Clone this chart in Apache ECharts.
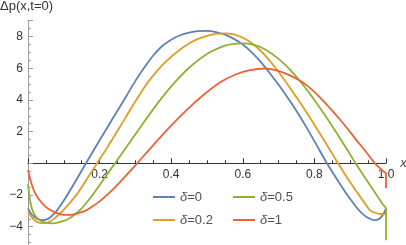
<!DOCTYPE html>
<html>
<head>
<meta charset="utf-8">
<script src="https://cdn.jsdelivr.net/npm/echarts@6/dist/echarts.min.js"></script>
<style>
html,body{margin:0;padding:0;background:#fff;}
#chart{width:406px;height:245px;}
</style>
</head>
<body>
<div id="chart"></div>
<script>
// ---- data ----
var seriesNames = ['δ=0', 'δ=0.2', 'δ=0.5', 'δ=1'];

var xDelta0 = [0, 0.005, 0.01, 0.02, 0.03, 0.04, 0.05, 0.06, 0.08, 0.10, 0.12, 0.14, 0.162, 0.20, 0.24, 0.271, 0.30, 0.33, 0.35, 0.375, 0.40, 0.425, 0.45, 0.475, 0.50, 0.525, 0.55, 0.575, 0.60, 0.625, 0.65, 0.675, 0.70, 0.725, 0.75, 0.777, 0.80, 0.835, 0.86, 0.88, 0.90, 0.92, 0.94, 0.955, 0.968, 0.98, 0.99, 0.995, 1.0];
var yDelta0 = [-2.84, -3.05, -3.22, -3.42, -3.54, -3.58, -3.55, -3.45, -3.0, -2.35, -1.62, -0.85, 0, 1.45, 2.95, 4.1, 5.2, 6.2, 6.8, 7.4, 7.8, 8.08, 8.25, 8.34, 8.35, 8.28, 8.12, 7.85, 7.5, 7.0, 6.4, 5.7, 4.95, 4.15, 3.3, 2.3, 1.4, 0, -0.9, -1.6, -2.25, -2.85, -3.3, -3.5, -3.58, -3.52, -3.3, -3.1, -2.84];

var xDelta02 = [0, 0.005, 0.01, 0.02, 0.03, 0.045, 0.06, 0.075, 0.09, 0.10, 0.12, 0.14, 0.16, 0.18, 0.193, 0.22, 0.257, 0.285, 0.304, 0.33, 0.35, 0.378, 0.40, 0.425, 0.45, 0.475, 0.50, 0.525, 0.55, 0.575, 0.60, 0.625, 0.65, 0.675, 0.70, 0.73, 0.76, 0.80, 0.84, 0.866, 0.88, 0.90, 0.92, 0.94, 0.955, 0.97, 0.985, 1.0];
var yDelta02 = [-3.0, -3.22, -3.4, -3.62, -3.74, -3.78, -3.68, -3.46, -3.15, -2.92, -2.42, -1.85, -1.15, -0.45, 0, 0.95, 2.3, 3.36, 4.05, 4.95, 5.55, 6.25, 6.72, 7.18, 7.56, 7.85, 8.04, 8.16, 8.2, 8.13, 7.92, 7.58, 7.1, 6.48, 5.76, 4.82, 3.83, 2.43, 0.97, 0, -0.5, -1.2, -1.85, -2.5, -2.95, -3.12, -3.2, -3.2];

var xDelta05 = [0, 0.003, 0.008, 0.015, 0.025, 0.035, 0.05, 0.07, 0.09, 0.11, 0.13, 0.15, 0.17, 0.19, 0.21, 0.243, 0.27, 0.30, 0.35, 0.40, 0.45, 0.50, 0.55, 0.575, 0.60, 0.63, 0.66, 0.70, 0.74, 0.78, 0.82, 0.86, 0.9, 0.915, 0.93, 0.95, 0.97, 0.983, 0.992, 1.0, 1.0];
var yDelta05 = [-1.3, -1.9, -2.6, -3.1, -3.45, -3.62, -3.75, -3.79, -3.7, -3.55, -3.25, -2.85, -2.3, -1.7, -1.05, 0, 0.87, 1.83, 3.42, 4.85, 6.03, 6.9, 7.42, 7.54, 7.57, 7.48, 7.21, 6.59, 5.71, 4.61, 3.35, 1.99, 0.55, 0, -0.52, -1.2, -1.88, -2.32, -2.62, -2.85, -4.85];

var xDelta1 = [0, 0.005, 0.01, 0.02, 0.03, 0.045, 0.06, 0.075, 0.09, 0.103, 0.12, 0.14, 0.16, 0.178, 0.20, 0.23, 0.257, 0.28, 0.305, 0.35, 0.397, 0.443, 0.49, 0.536, 0.58, 0.62, 0.662, 0.704, 0.74, 0.777, 0.816, 0.872, 0.918, 0.945, 0.969, 0.985, 0.995, 1.0, 1.0];
var yDelta1 = [-0.42, -0.9, -1.3, -1.9, -2.25, -2.65, -2.92, -3.1, -3.2, -3.26, -3.25, -3.15, -3.0, -2.75, -2.4, -1.8, -1.18, -0.62, 0, 1.15, 2.31, 3.36, 4.31, 5.1, 5.6, 5.88, 5.98, 5.8, 5.45, 4.95, 4.15, 2.75, 1.45, 0.7, 0, -0.35, -0.55, -0.62, -1.58];

var xTickLabels = ['0.2', '0.4', '0.6', '0.8', '1.0'];
var yTickLabels = ['−4', '−2', '2', '4', '6', '8'];
var colors = ['#5E81B5', '#E19C24', '#8FB032', '#EB6235'];

// ---- build ----
function pairs(xs, ys) { return xs.map(function (x, i) { return [x, ys[i]]; }); }
var allData = [pairs(xDelta0, yDelta0), pairs(xDelta02, yDelta02), pairs(xDelta05, yDelta05), pairs(xDelta1, yDelta1)];

var FONT = 'Liberation Sans, Arial, sans-serif';
var chart = echarts.init(document.getElementById('chart'), null, {renderer: 'canvas'});

function fmtY(v) {
  var r = Math.round(v * 100) / 100;
  var s = (r < 0 ? '−' + Math.abs(r) : String(r));
  return yTickLabels.indexOf(s) >= 0 ? s : '';
}
function fmtX(v) {
  var s = (Math.round(v * 100) / 100).toFixed(1);
  return xTickLabels.indexOf(s) >= 0 ? s : '';
}

var legendText = {
  color: '#505050', fontSize: 13, fontFamily: FONT, lineHeight: 16,
  rich: {
    i: {fontStyle: 'italic', color: '#505050', fontSize: 13, fontFamily: FONT},
    n: {color: '#505050', fontSize: 13, fontFamily: FONT}
  }
};
function legendFmt(name) { return '{i|δ}{n|' + name.slice(1) + '}'; }

// plot geometry: y from -6 (below the picture) to 9, zero line at 163.3px
var TOP = 20.65, ZERO_FROM_BOTTOM = 245 - 163.3;

var option = {
  animation: false,
  backgroundColor: '#fff',
  title: {
    text: 'Δp(x,t=0)', left: 0, top: 0, padding: 0,
    textStyle: {fontSize: 13, fontWeight: 'normal', color: '#333', fontFamily: FONT}
  },
  legend: [
    {data: [seriesNames[0], seriesNames[1]], orient: 'vertical', left: 153, top: 189,
     icon: 'rect', itemWidth: 22, itemHeight: 2, itemGap: 7, padding: 0,
     formatter: legendFmt, textStyle: legendText},
    {data: [seriesNames[2], seriesNames[3]], orient: 'vertical', left: 233, top: 189,
     icon: 'rect', itemWidth: 22, itemHeight: 2, itemGap: 7, padding: 0,
     formatter: legendFmt, textStyle: legendText}
  ],
  grid: [
    {left: 28, right: 20, top: TOP, bottom: -13.4, containLabel: false, outerBoundsMode: 'none'},
    {left: 28, right: 20, top: TOP, bottom: ZERO_FROM_BOTTOM, containLabel: false, outerBoundsMode: 'none'}
  ],
  xAxis: [
    {
      gridIndex: 0, type: 'value', min: 0, max: 1, interval: 0.2, show: false
    },
    {
      gridIndex: 1, type: 'value', min: 0, max: 1, interval: 0.2, position: 'bottom',
      name: 'x', nameLocation: 'end', nameGap: 6,
      nameTextStyle: {fontStyle: 'italic', fontSize: 13, color: '#444', fontFamily: FONT, padding: [0, 0, 6, 0]},
      axisLine: {onZero: false, lineStyle: {color: '#333', width: 1}},
      axisTick: {show: true, inside: true, length: 5, lineStyle: {color: '#333'}},
      minorTick: {show: true, splitNumber: 4, length: 3, lineStyle: {color: '#333'}},
      axisLabel: {formatter: fmtX, fontSize: 12, color: '#333', fontFamily: FONT, margin: 5},
      splitLine: {show: false}
    }
  ],
  yAxis: [
    {
      gridIndex: 0, type: 'value', min: -6, max: 9, interval: 0.5, position: 'left', offset: 0,
      axisLine: {show: true, onZero: false, lineStyle: {color: '#9a9a9a', width: 1}},
      axisTick: {show: true, inside: true, length: 3, lineStyle: {color: '#9a9a9a'}},
      axisLabel: {formatter: fmtY, fontSize: 12, color: '#333', fontFamily: FONT, margin: 5, showMaxLabel: false},
      splitLine: {show: false}
    },
    {
      gridIndex: 0, type: 'value', min: -6, max: 9, interval: 2, position: 'left', offset: 0,
      axisLine: {show: false, onZero: false},
      axisTick: {show: true, inside: true, length: 5, lineStyle: {color: '#9a9a9a'}},
      axisLabel: {show: false},
      splitLine: {show: false}
    },
    {
      gridIndex: 1, type: 'value', min: 0, max: 9, show: false
    }
  ],
  series: allData.map(function (d, i) {
    return {
      name: seriesNames[i], type: 'line', data: d, xAxisIndex: 0, yAxisIndex: 0,
      showSymbol: false, symbol: 'none', smooth: 0.3, clip: true,
      lineStyle: {color: colors[i], width: 1.8},
      itemStyle: {color: colors[i]}
    };
  })
};
chart.setOption(option);
</script>
</body>
</html>
